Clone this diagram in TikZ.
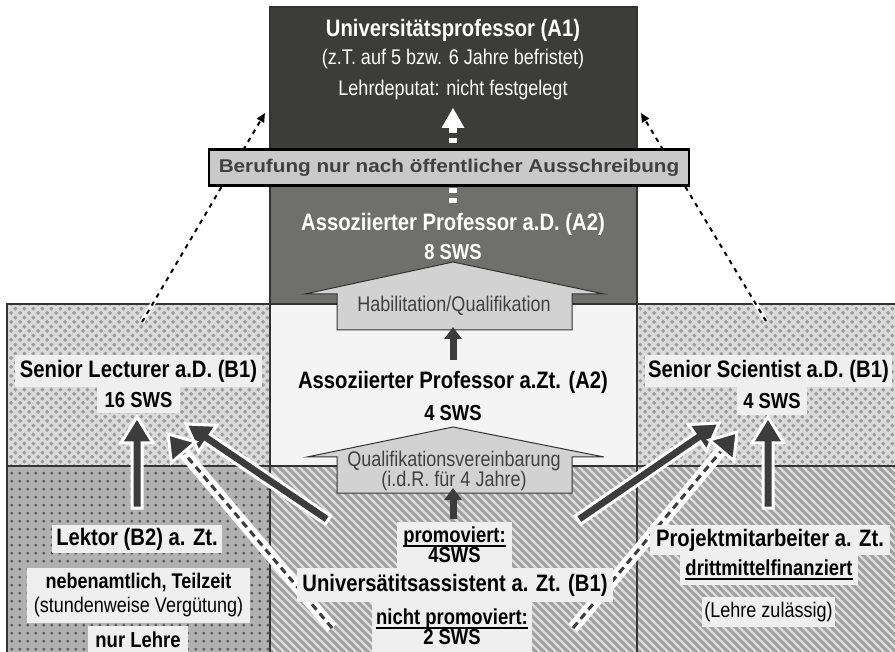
\documentclass[tikz,border=0pt]{standalone}
\usepackage{fontspec}
\setmainfont{Liberation Sans}[FakeStretch=0.85]
\newfontfamily\bannerfont{Liberation Sans}[FakeStretch=1.12]
\usetikzlibrary{patterns,calc,arrows.meta}
\definecolor{topdark}{HTML}{3C3C3B}
\definecolor{middark}{HTML}{6F6F6E}
\definecolor{lightbox}{HTML}{F4F4F4}
\definecolor{edge}{HTML}{333333}
\definecolor{lblbg}{HTML}{EFEFEF}
\definecolor{diambg}{HTML}{DADADA}
\definecolor{diamfg}{HTML}{9C9C9C}
\definecolor{dotbg}{HTML}{B1B1B1}
\definecolor{dotfg}{HTML}{5E5E5E}
\definecolor{stripebg}{HTML}{DCDCDC}
\definecolor{stripefg}{HTML}{A0A0A0}
\definecolor{arrowdark}{HTML}{3C3C3C}
\definecolor{blockfill}{HTML}{D2D2D2}
\definecolor{bannerfill}{HTML}{C8C9C8}
\definecolor{bannertext}{HTML}{404040}
\pgfdeclarepatternformonly{mydiamonds}{\pgfpointorigin}{\pgfqpoint{9.2pt}{9.2pt}}{\pgfqpoint{9.2pt}{9.2pt}}{%
  \pgfpathmoveto{\pgfqpoint{2.3pt}{0.1pt}}\pgfpathlineto{\pgfqpoint{4.5pt}{2.3pt}}\pgfpathlineto{\pgfqpoint{2.3pt}{4.5pt}}\pgfpathlineto{\pgfqpoint{0.1pt}{2.3pt}}\pgfpathclose
  \pgfpathmoveto{\pgfqpoint{6.9pt}{4.7pt}}\pgfpathlineto{\pgfqpoint{9.1pt}{6.9pt}}\pgfpathlineto{\pgfqpoint{6.9pt}{9.1pt}}\pgfpathlineto{\pgfqpoint{4.7pt}{6.9pt}}\pgfpathclose
  \pgfusepath{fill}}
\pgfdeclarepatternformonly{mydots}{\pgfpointorigin}{\pgfqpoint{8.3pt}{8.3pt}}{\pgfqpoint{8.3pt}{8.3pt}}{%
  \pgfpathcircle{\pgfqpoint{4.15pt}{4.15pt}}{1.8pt}\pgfusepath{fill}}
\pgfdeclarepatternformonly{mystripes}{\pgfqpoint{-1pt}{-1pt}}{\pgfqpoint{9pt}{9pt}}{\pgfqpoint{8pt}{8pt}}{%
  \pgfsetlinewidth{2.9pt}%
  \pgfpathmoveto{\pgfqpoint{-1pt}{9pt}}\pgfpathlineto{\pgfqpoint{9pt}{-1pt}}%
  \pgfusepath{stroke}}
\newcommand\uline[1]{\leavevmode\setbox0=\hbox{#1}\rlap{\copy0}\raisebox{-3.8pt}{\rule{\wd0}{1.3pt}}}
\newcommand\fatarrow[2]{%
  \path (#1) coordinate (faS) (#2) coordinate (faT) ($(faT)!26pt!(faS)$) coordinate (faB);
  \filldraw[fatarrow] ($(faS)!5pt!90:(faT)$) -- ($(faB)!5pt!90:(faT)$) -- ($(faB)!16pt!90:(faT)$) -- (faT)
    -- ($(faB)!16pt!-90:(faT)$) -- ($(faB)!5pt!-90:(faT)$) -- ($(faS)!5pt!-90:(faT)$) -- cycle;}
\newcommand\dasharrow[2]{%
  \path (#1) coordinate (faS) (#2) coordinate (faT) ($(faT)!24pt!(faS)$) coordinate (faB);
  \draw[white, line width=12pt] (faS) -- (faB);
  \draw[arrowdark, line width=3pt, dash pattern=on 7pt off 5pt] (faS) -- (faB);
  \filldraw[fatarrow] ($(faB)!16pt!90:(faT)$) -- (faT) -- ($(faB)!16pt!-90:(faT)$) -- cycle;}
\begin{document}
\begin{tikzpicture}[x=1pt,y=-1pt,
  title/.style={font=\fontsize{23.8}{27}\selectfont\bfseries, inner sep=0pt},
  subb/.style={font=\fontsize{21.7}{23}\selectfont\bfseries, inner sep=0pt},
  reg/.style={font=\fontsize{21.2}{23}\selectfont, inner sep=0pt},
  lbl/.style={fill=lblbg, inner sep=0pt, align=center},
  region/.style={draw=edge, line width=1.2pt},
  fatarrow/.style={fill=arrowdark, draw=white, line width=3pt, line join=miter},
  blockarrow/.style={fill=blockfill, draw=edge, line width=1pt},
  darkup/.style={arrowdark, line width=7pt, -{Triangle[length=12pt,width=17pt]}},
  thindash/.style={black, line width=2pt, dash pattern=on 4.5pt off 5pt, -{Triangle[length=9pt,width=8pt]}},
]
\useasboundingbox (0,0) rectangle (895,652);
\begin{scope}
\clip (0,0) rectangle (895,652);
% ---------- regions
\fill[topdark] (270,7) rectangle (637,150);
\fill[middark] (270,150) rectangle (637,304);
\fill[lightbox] (270,304) rectangle (637,466);
\fill[diambg] (7,304) rectangle (270,466);
\fill[pattern=mydiamonds, pattern color=diamfg] (7,304) rectangle (270,466);
\fill[diambg] (637,304) rectangle (900,466);
\fill[pattern=mydiamonds, pattern color=diamfg] (637,304) rectangle (900,466);
\fill[dotbg] (7,466) rectangle (270,660);
\fill[pattern=mydots, pattern color=dotfg] (7,466) rectangle (270,660);
\fill[stripebg] (270,466) rectangle (637,660);
\fill[pattern=mystripes, pattern color=stripefg] (270,466) rectangle (637,660);
\fill[stripebg] (637,466) rectangle (900,660);
\fill[pattern=mystripes, pattern color=stripefg] (637,466) rectangle (900,660);
\draw[region] (270,7) rectangle (637,304);
\draw[region] (270,304) rectangle (637,466);
\draw[region] (7,304) rectangle (270,466);
\draw[region] (637,304) rectangle (900,466);
\draw[region] (7,466) rectangle (270,660);
\draw[region] (270,466) rectangle (637,660);
\draw[region] (637,466) rectangle (900,660);
% ---------- block arrows
\filldraw[blockarrow] (337,330) -- (337,294) -- (305,294) -- (453,262) -- (604,294) -- (572,294) -- (572,330) -- cycle;
\node[reg, text=bannertext] (habil) at (454,306) {Habilitation/Qualifikation};
\filldraw[blockarrow] (337,493) -- (337,457) -- (307,457) -- (453,427) -- (604,457) -- (572,457) -- (572,493) -- cycle;
\node[reg, align=center, font=\fontsize{21.2}{18}\selectfont, text=bannertext] (quali) at (454,471) {Qualifikationsvereinbarung\\(i.d.R. für 4 Jahre)};
% ---------- middle dark arrows
\coordinate (ma-s) at (453,360); \coordinate (ma-t) at (453,327);
\coordinate (mb-s) at (453,519); \coordinate (mb-t) at (453,488);
\draw[darkup] (ma-s) -- (ma-t);
\draw[darkup] (mb-s) -- (mb-t);
% ---------- white arrow in top box
\coordinate (wa-s) at (453,206); \coordinate (wa-b) at (453,128); \coordinate (wa-t) at (453,108);
\draw[white, line width=8pt, dash pattern=on 5pt off 5pt] (wa-b) -- (wa-s);
\fill[white] ($(wa-b)+(-11.5,0)$) -- (wa-t) -- ($(wa-b)+(11.5,0)$) -- cycle;
% ---------- thin dotted arrows
\coordinate (dl-s) at (142,322); \coordinate (dl-t) at (265,113);
\coordinate (dr-s) at (766,321); \coordinate (dr-t) at (641,113);
\draw[white, line width=5pt] (dl-s) -- ($(dl-s)!30pt!(dl-t)$);
\draw[white, line width=5pt] (dr-s) -- ($(dr-s)!30pt!(dr-t)$);
\draw[thindash] (dl-s) -- (dl-t);
\draw[thindash] (dr-s) -- (dr-t);
% ---------- fat arrows
\coordinate (vl-s) at (137,508); \coordinate (vl-t) at (137,417);
\coordinate (vr-s) at (768,508); \coordinate (vr-t) at (768,417);
\coordinate (sl-s) at (328,520); \coordinate (sl-t) at (186,424);
\coordinate (dsl-s) at (332,628); \coordinate (dsl-t) at (168,434);
\coordinate (sr-s) at (578,520); \coordinate (sr-t) at (719,423);
\coordinate (dsr-s) at (573,628); \coordinate (dsr-t) at (737,432);
\fatarrow{vl-s}{vl-t}
\fatarrow{vr-s}{vr-t}
\fatarrow{sl-s}{sl-t}
\fatarrow{sr-s}{sr-t}
\dasharrow{dsl-s}{dsl-t}
\dasharrow{dsr-s}{dsr-t}
% ---------- top texts
\node[title, text=white] (a1) at (453,30) {Universitätsprofessor (A1)};
\node[reg, text=white] (a1b) at (453,59) {(z.T. auf 5 bzw. 6 Jahre befristet)};
\node[reg, text=white] (a1c) at (453,90) {Lehrdeputat: nicht festgelegt};
\node[title, text=white] (a2d) at (453,224) {Assoziierter Professor a.D. (A2)};
\node[subb, text=white] (a2ds) at (453,252) {8 SWS};
\node[title] (a2z) at (453,382) {Assoziierter Professor a.Zt. (A2)};
\node[subb] (a2zs) at (453,413) {4 SWS};
% ---------- left labels
\node[lbl, title, minimum width=247, minimum height=32] (sl) at (138.5,371) {Senior Lecturer a.D. (B1)};
\node[lbl, subb, minimum width=83, minimum height=26] (sls) at (138.5,400) {16 SWS};
\node[lbl, title, minimum width=170, minimum height=28] (lek) at (137,539) {Lektor (B2) a. Zt.};
\node[lbl, minimum width=223, minimum height=55, font=\fontsize{21.2}{24}\selectfont] (neb) at (138.5,595.5) {\bfseries nebenamtlich, Teilzeit\\\mdseries(stundenweise Vergütung)};
\node[lbl, subb, minimum width=100, minimum height=27] (nur) at (138,639.5) {nur Lehre};
% ---------- right labels
\node[lbl, title, minimum width=247, minimum height=32] (ss) at (768.5,371) {Senior Scientist a.D. (B1)};
\node[lbl, subb, minimum width=70, minimum height=28] (sss) at (772,401) {4 SWS};
\node[lbl, title, minimum width=240, minimum height=30] (pm) at (770,540) {Projektmitarbeiter a. Zt.};
\node[lbl, subb, minimum width=178, minimum height=30] (dm) at (769,570) {\uline{drittmittelfinanziert}};
\node[lbl, reg, minimum width=133, minimum height=30] (lz) at (768.5,612) {(Lehre zulässig)};
% ---------- middle bottom labels
\node[lbl, subb, minimum width=115, minimum height=46, font=\fontsize{21.7}{20}\selectfont\bfseries] (prom) at (454.5,545) {\uline{promoviert:}\\4SWS};
\node[lbl, title, minimum width=316, minimum height=34] (ua) at (455,585) {Universätitsassistent a. Zt. (B1)};
\node[lbl, subb, minimum width=160, minimum height=50, font=\fontsize{21.7}{20}\selectfont\bfseries] (np) at (452,627) {\uline{nicht promoviert:}\\2 SWS};
% ---------- banner
\node[draw=black, line width=2.5pt, fill=bannerfill, minimum width=480, minimum height=36, inner sep=0pt,
  font=\bannerfont\fontsize{18.5}{20}\selectfont\bfseries, text=bannertext] (banner) at (449,167.5) {Berufung nur nach öffentlicher Ausschreibung};
\end{scope}
\end{tikzpicture}
\end{document}
